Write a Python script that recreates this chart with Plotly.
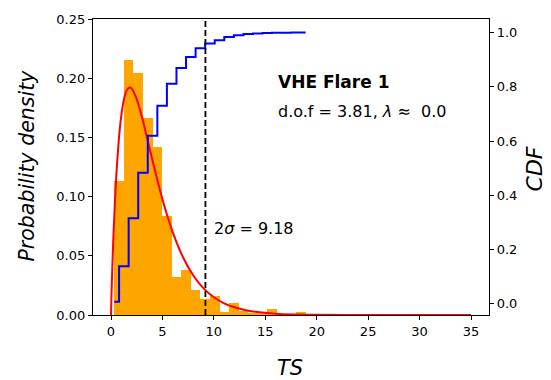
import plotly.graph_objects as go

# ---- data ----
bin_edges = [0.32, 1.25, 2.18, 3.11, 4.04, 4.97, 5.90, 6.83, 7.76, 8.69, 9.62,
             10.55, 11.48, 12.41, 13.34, 14.27, 15.20, 16.13, 17.06, 17.99, 18.92]
density = [0.113, 0.215, 0.204, 0.166, 0.142, 0.0836, 0.032, 0.0376, 0.0209, 0.0135,
           0.016, 0.0028, 0.010, 0.0036, 0.002, 0.001, 0.005, 0.0, 0.0, 0.0025]
cdf_values = [0.008, 0.139, 0.316, 0.483, 0.620, 0.730, 0.811, 0.869, 0.910, 0.942, 0.960,
              0.972, 0.984, 0.990, 0.995, 0.997, 0.998, 0.999, 0.999, 1.0, 1.0]
fit_ts = [0, 0.05, 0.1, 0.25, 0.5, 0.75, 1, 1.25, 1.5, 1.81, 2, 2.5, 3, 3.5, 4, 5, 6, 7,
          8, 9, 10, 11, 12, 13, 14, 16, 18, 20, 25, 30, 35]
fit_pdf = [0, 0.0180, 0.0329, 0.0699, 0.1155, 0.1471, 0.1684, 0.1819, 0.1893, 0.1921,
           0.1913, 0.1823, 0.1674, 0.1499, 0.1317, 0.0978, 0.0700, 0.0488, 0.0334, 0.0225,
           0.0150, 0.0099, 0.0065, 0.0043, 0.0028, 0.00115, 0.00047, 0.00019, 0.00002,
           0.0000015, 0.0]
sigma2_ts = 9.18
x_ticks = [0, 5, 10, 15, 20, 25, 30, 35]
y_ticks = [0.0, 0.05, 0.10, 0.15, 0.20, 0.25]
y2_ticks = [0.0, 0.2, 0.4, 0.6, 0.8, 1.0]

bin_centers = [(a + b) / 2 for a, b in zip(bin_edges[:-1], bin_edges[1:])]
bin_widths = [b - a for a, b in zip(bin_edges[:-1], bin_edges[1:])]

FONT = "DejaVu Sans"

fig = go.Figure()
fig.add_trace(go.Bar(x=bin_centers, y=density, width=bin_widths,
                     marker=dict(color="#FFA500", line=dict(width=0)),
                     showlegend=False))
fig.add_trace(go.Scatter(x=fit_ts, y=fit_pdf, mode="lines",
                         line=dict(color="#FF0000", width=2, shape="spline", smoothing=0.6),
                         showlegend=False))
fig.add_trace(go.Scatter(x=bin_edges, y=cdf_values, mode="lines", yaxis="y2",
                         line=dict(color="#0000FF", width=2, shape="hvh"),
                         showlegend=False))

fig.add_shape(type="line", xref="x", yref="paper", x0=sigma2_ts, x1=sigma2_ts, y0=0, y1=1,
              line=dict(color="black", width=1.8, dash="6px,3px"), layer="above")

axis_common = dict(showline=True, linecolor="black", linewidth=1.2, ticks="outside",
                   ticklen=4, tickcolor="black", tickwidth=1, showgrid=False, zeroline=False,
                   tickfont=dict(family=FONT, size=13, color="black"))

fig.update_layout(
    width=551, height=380,
    margin=dict(l=93, r=62, t=16, b=65),
    paper_bgcolor="white", plot_bgcolor="white",
    font=dict(family=FONT, color="black"),
    xaxis=dict(range=[-1.75, 36.75], tickvals=x_ticks, mirror=True, **axis_common),
    yaxis=dict(range=[0, 0.25], tickvals=y_ticks, tickformat=".2f", **axis_common),
    yaxis2=dict(range=[-0.041, 1.05], tickvals=y2_ticks, tickformat=".1f",
                overlaying="y", side="right", **axis_common),
    bargap=0,
)

annotations = [
    dict(text="<b>VHE Flare 1</b>", x=16.0, y=0.1965, xref="x", yref="y",
         xanchor="left", yanchor="middle", showarrow=False,
         font=dict(family=FONT, size=17, color="black")),
    dict(text="d.o.f = 3.81, <i>λ</i> ≈\u00a0 0.0", x=16.0, y=0.1722, xref="x", yref="y",
         xanchor="left", yanchor="middle", showarrow=False,
         font=dict(family=FONT, size=16, color="black")),
    dict(text="2<i>σ</i> = 9.18", x=9.85, y=0.0727, xref="x", yref="y",
         xanchor="left", yanchor="middle", showarrow=False,
         font=dict(family=FONT, size=16, color="black")),
    dict(text="<i>TS</i>", x=(290 - 93) / 396, y=(315 - 369) / 299, xref="paper", yref="paper",
         xanchor="center", yanchor="middle", showarrow=False,
         font=dict(family=FONT, size=21, color="black")),
    dict(text="<i>Probability density</i>", x=(27 - 93) / 396, y=(315 - 164) / 299,
         xref="paper", yref="paper",
         xanchor="center", yanchor="middle", showarrow=False, textangle=-90,
         font=dict(family=FONT, size=20.5, color="black")),
    dict(text="<i>CDF</i>", x=(534 - 93) / 396, y=(315 - 168) / 299, xref="paper", yref="paper",
         xanchor="center", yanchor="middle", showarrow=False, textangle=-90,
         font=dict(family=FONT, size=22, color="black")),
]
fig.update_layout(annotations=annotations)

fig.write_html("out.html")
